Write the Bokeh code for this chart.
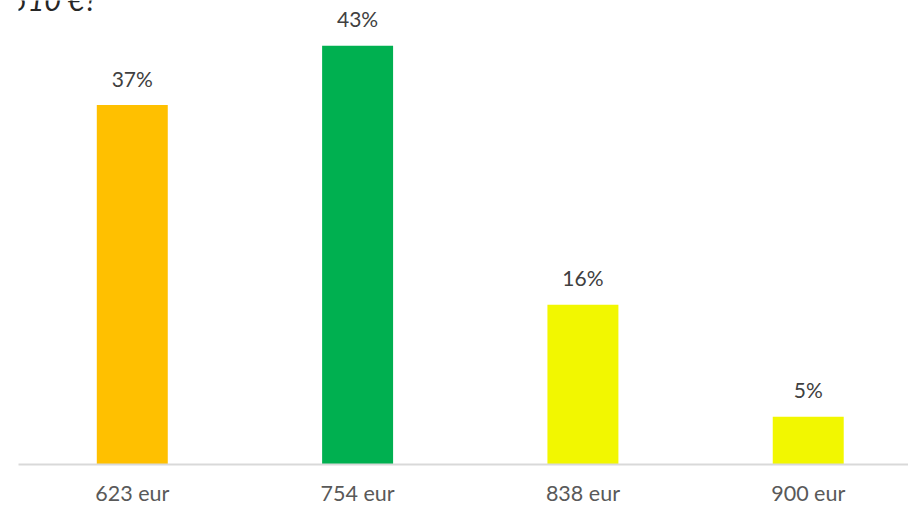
from bokeh.plotting import figure
from bokeh.models import ColumnDataSource, Range1d, FixedTicker, Label
from bokeh.core.properties import value
from bokeh.embed import file_html
from bokeh.resources import INLINE

categories = ["623 eur", "754 eur", "838 eur", "900 eur"]
shares = [36.9, 43.0, 16.4, 4.9]
share_labels = ["37%", "43%", "16%", "5%"]
colors = ["#FFC000", "#00B050", "#F2F700", "#F2F700"]
title_text = "510 €?"

xs = list(range(len(categories)))
src = ColumnDataSource(dict(x=xs, top=shares, lab=share_labels, color=colors))

p = figure(width=908, height=508, output_backend="svg", toolbar_location=None,
           x_range=Range1d(-0.505, 3.445), y_range=Range1d(0, 47.64),
           min_border_left=18, min_border_right=0, min_border_top=0, min_border_bottom=43)
p.outline_line_color = None
p.grid.visible = False
p.yaxis.visible = False
p.background_fill_color = "white"
p.border_fill_color = "white"

p.vbar(x="x", top="top", width=0.315, bottom=0, color="color", source=src, line_color=None)
p.text(x="x", y="top", text="lab", source=src, y_offset=-27, text_align="center",
       text_baseline="alphabetic", text_font=value("Lato"), text_font_size="21px",
       text_color="#404040")

ax = p.xaxis[0]
ax.ticker = FixedTicker(ticks=xs)
ax.major_label_overrides = {i: c for i, c in zip(xs, categories)}
ax.major_tick_line_color = None
ax.minor_tick_line_color = None
ax.axis_line_color = "#D9D9D9"
ax.axis_line_width = 2
ax.major_label_standoff = 9
ax.major_label_text_font = "Lato"
ax.major_label_text_font_size = "21.5px"
ax.major_label_text_color = "#595959"

p.add_layout(Label(x=-0.54, y=47.75, text=title_text, text_font="Lato",
                   text_font_style="italic", text_font_size="29px",
                   text_color="#262626", text_baseline="alphabetic"))

open("out.html", "w").write(file_html(p, INLINE))
